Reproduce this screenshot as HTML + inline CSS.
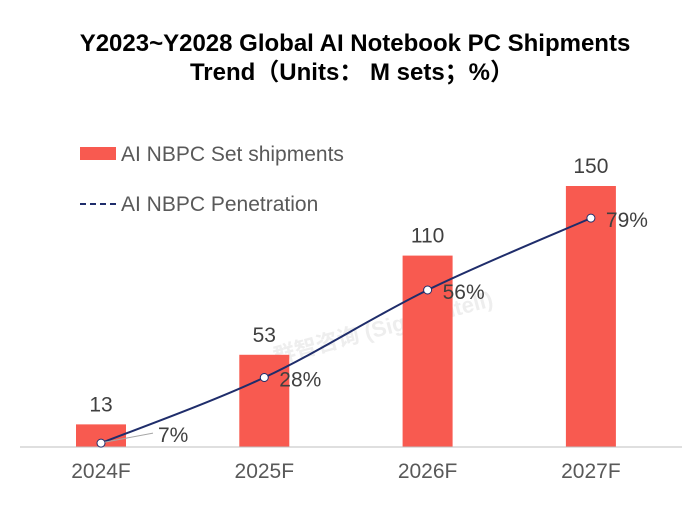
<!DOCTYPE html>
<html><head><meta charset="utf-8"><style>
body{margin:0;background:#fff;font-family:"Liberation Sans","Noto Sans CJK SC",sans-serif}
</style></head><body>
<svg width="700" height="513" viewBox="0 0 700 513" font-family="Liberation Sans, Noto Sans CJK SC, sans-serif">
<text x="355" y="51" text-anchor="middle" font-size="24" font-weight="bold" fill="#000">Y2023~Y2028 Global AI Notebook PC Shipments</text>
<text x="352" y="80" text-anchor="middle" font-size="24" font-weight="bold" fill="#000">Trend（Units： M sets；%）</text>
<rect x="80" y="147" width="36" height="13" fill="#f85a50"/>
<text x="121" y="161" font-size="21" fill="#595959">AI NBPC Set shipments</text>
<line x1="80" y1="204" x2="116" y2="204" stroke="#1f2d6b" stroke-width="2" stroke-dasharray="6,4"/>
<text x="121" y="211" font-size="21" fill="#595959">AI NBPC Penetration</text>
<text x="385" y="335" text-anchor="middle" font-size="22" font-weight="bold" fill="#eee" transform="rotate(-15 385 335)">群智咨询 (Sigmaintell)</text>
<g id="g"></g>
</svg>
<script>
const categories=["2024F","2025F","2026F","2027F"];
const shipments=[13,53,110,150];
const penetration=[7,28,56,79];
const pctLabels=["7%","28%","56%","79%"];
const xc=i=>101+i*163.3;
const yBar=v=>447-v*1.74;
const yPct=p=>465-p*3.125;
const NS="http://www.w3.org/2000/svg";
const g=document.getElementById("g");
function mk(t,a){const e=document.createElementNS(NS,t);for(const k in a)e.setAttribute(k,a[k]);g.appendChild(e);return e;}
categories.forEach((c,i)=>{
 const r=mk("rect",{x:xc(i)-25,y:yBar(shipments[i]),width:50,height:447-yBar(shipments[i]),fill:"#f85a50"});
 
 
 const t=mk("text",{x:xc(i),y:yBar(shipments[i])-13,"text-anchor":"middle","font-size":"21",fill:"#404040"});
 t.textContent=shipments[i];
 
 
 const x=mk("text",{x:xc(i),y:478,"text-anchor":"middle","font-size":"21",fill:"#595959"});
 x.textContent=c;
 
 
});
const ax=mk("line",{x1:20,y1:447,x2:682,y2:447,stroke:"#bfbfbf","stroke-width":1});


const P=penetration.map((p,i)=>[xc(i),yPct(p)]);
let d="M"+P[0][0]+","+P[0][1];
for(let i=0;i<P.length-1;i++){
 const p0=P[Math.max(i-1,0)],p1=P[i],p2=P[i+1],p3=P[Math.min(i+2,P.length-1)];
 const c1=[p1[0]+(p2[0]-p0[0])/6,p1[1]+(p2[1]-p0[1])/6],c2=[p2[0]-(p3[0]-p1[0])/6,p2[1]-(p3[1]-p1[1])/6];
 d+=` C${c1[0]},${c1[1]} ${c2[0]},${c2[1]} ${p2[0]},${p2[1]}`;
}
const ln=mk("path",{d:d,fill:"none",stroke:"#1f2d6b","stroke-width":2});


P.forEach((p,i)=>{
 const c=mk("circle",{cx:p[0],cy:p[1],r:4,fill:"#fff",stroke:"#1f2d6b","stroke-width":1});
 
 
 if(i===0){const l=mk("line",{x1:p[0]+4,y1:p[1]-1,x2:p[0]+52,y2:p[1]-10,stroke:"#a6a6a6"});
  
  }
 const t=mk("text",{x:i===0?p[0]+57:p[0]+15,y:i===0?p[1]-1:p[1]+9,"font-size":"21",fill:"#404040"});
 t.textContent=pctLabels[i];
 
 
});
</script>
</body></html>
